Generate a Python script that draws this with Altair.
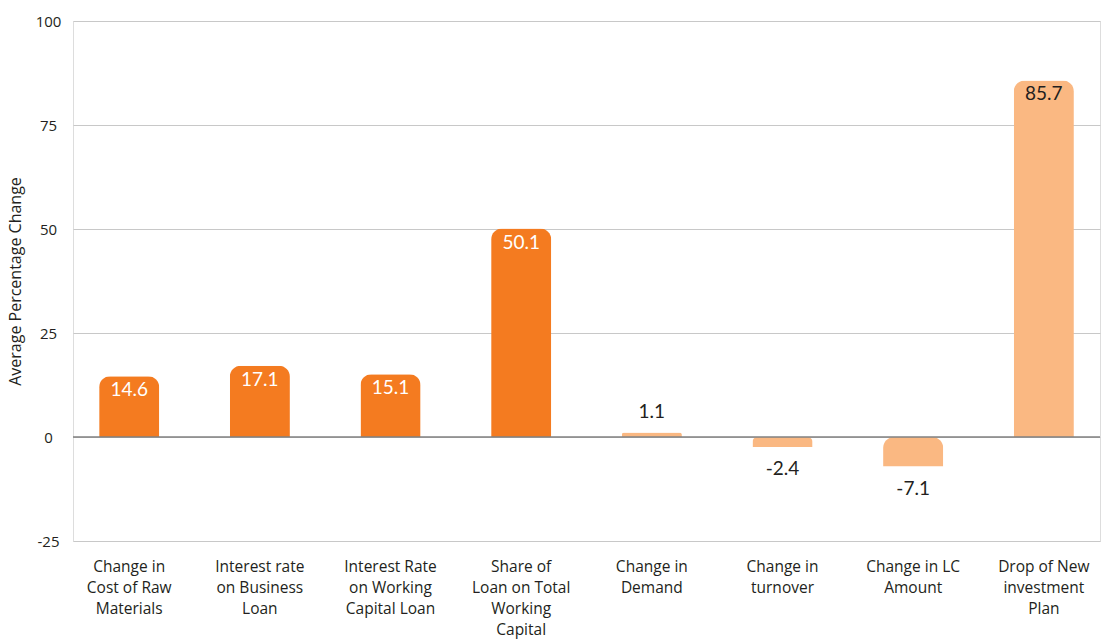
import altair as alt
import pandas as pd

categories = [
    "Change in|Cost of Raw|Materials",
    "Interest rate|on Business|Loan",
    "Interest Rate|on Working|Capital Loan",
    "Share of|Loan on Total|Working|Capital",
    "Change in|Demand",
    "Change in|turnover",
    "Change in LC|Amount",
    "Drop of New|investment|Plan",
]
values = [14.6, 17.1, 15.1, 50.1, 1.1, -2.4, -7.1, 85.7]
groups = ["A", "A", "A", "A", "B", "B", "B", "B"]
y_ticks = [-25, 0, 25, 50, 75, 100]

df = pd.DataFrame({"cat": categories, "value": values, "group": groups})
df["label"] = df["value"].map(lambda v: f"{v:.1f}")

DARK = "#F47B20"
LIGHT = "#FAB882"
FONT = "Open Sans"
VFONT = "Lato"

x_enc = alt.X(
    "cat:N",
    sort=categories,
    scale=alt.Scale(paddingInner=0.54, paddingOuter=0.2),
    axis=alt.Axis(
        title=None,
        labelAngle=0,
        labelExpr="split(datum.label, '|')",
        labelFont=FONT,
        labelFontSize=15.5,
        labelColor="#231F20",
        labelLineHeight=21,
        labelBaseline="top",
        labelPadding=18,
        ticks=False,
        tickSize=0,
        domain=False,
        grid=False,
        labelLimit=200,
    ),
)

y_scale = alt.Scale(domain=[-25, 100], nice=False, zero=False)

base = alt.Chart(df)

bars = base.mark_bar(cornerRadiusEnd=11).encode(
    x=x_enc,
    y=alt.Y(
        "value:Q",
        scale=y_scale,
        axis=alt.Axis(
            values=y_ticks,
            labelExpr="toString(datum.value)",
            title="Average Percentage Change",
            titleFont=FONT,
            titleFontSize=16,
            titleFontWeight="normal",
            titleColor="#231F20",
            titleAngle=270,
            titleX=-58,
            titleY=260,
            titleAlign="center",
            titleBaseline="middle",
            labelFont=FONT,
            labelFontSize=15,
            labelColor="#231F20",
            labelAlign="center",
            labelPadding=25,
            ticks=False,
            tickSize=0,
            domain=False,
            grid=True,
            gridColor="#C8C8C8",
            gridWidth=1.2,
        ),
    ),
    color=alt.Color(
        "group:N",
        scale=alt.Scale(domain=["A", "B"], range=[DARK, LIGHT]),
        legend=None,
    ),
)

zero_line = alt.Chart(pd.DataFrame({"z": [0]})).mark_rule(
    color="#808080", strokeWidth=1.5
).encode(y=alt.Y("z:Q", scale=y_scale))

inside_dark = base.transform_filter(
    "datum.value >= 10 && datum.group == 'A'"
).mark_text(font=VFONT, fontSize=19, color="white", baseline="middle", dy=14).encode(
    x=alt.X("cat:N", sort=categories), y=alt.Y("value:Q", scale=y_scale), text="label:N"
)

inside_light = base.transform_filter(
    "datum.value >= 10 && datum.group == 'B'"
).mark_text(font=VFONT, fontSize=19, color="#231F20", baseline="middle", dy=14).encode(
    x=alt.X("cat:N", sort=categories), y=alt.Y("value:Q", scale=y_scale), text="label:N"
)

above = base.transform_filter(
    "datum.value >= 0 && datum.value < 10"
).mark_text(font=VFONT, fontSize=19, color="#231F20", baseline="middle", dy=-20).encode(
    x=alt.X("cat:N", sort=categories), y=alt.Y("value:Q", scale=y_scale), text="label:N"
)

below = base.transform_filter("datum.value < 0").mark_text(
    font=VFONT, fontSize=19, color="#231F20", baseline="middle", dy=22
).encode(
    x=alt.X("cat:N", sort=categories), y=alt.Y("value:Q", scale=y_scale), text="label:N"
)

chart = (
    alt.layer(bars, zero_line, inside_dark, inside_light, above, below)
    .properties(
        width=1027,
        height=520,
        autosize=alt.AutoSizeParams(type="none"),
        padding={"left": 73, "top": 21, "right": 5, "bottom": 98},
    )
    .configure_view(stroke=None)
    .configure(background="white")
)

chart.save("out.html", embed_options={"renderer": "svg", "actions": False})
